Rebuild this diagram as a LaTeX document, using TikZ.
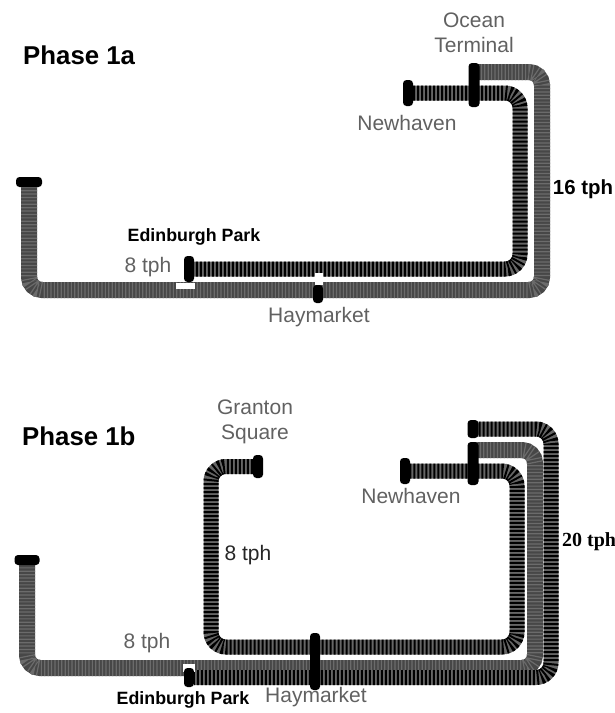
\documentclass[tikz,border=0pt]{standalone}
\usepackage{fontspec}
\setmainfont{Liberation Sans}
\newfontfamily\serifbold{Liberation Serif}[BoldFont={Liberation Serif Bold}]
\usetikzlibrary{backgrounds}

\begin{document}
\begin{tikzpicture} [
    x=1pt, y=-1pt,
    stopbar/.style={rectangle, fill=black, rounded corners=3.5pt, inner sep=0pt},
    patch/.style={rectangle, fill=white, inner sep=0pt},
    stationlabel/.style={inner sep=0pt, align=center, text=black!62, font=\fontsize{21}{24}\selectfont},
    boldlabel/.style={inner sep=0pt, font=\fontsize{17.8}{22}\selectfont\bfseries},
    phaselabel/.style={inner sep=0pt, anchor=west, font=\fontsize{25.8}{30}\selectfont\bfseries},
    checkline/.style={line width=16pt, rounded corners=13pt, black!72,
        postaction={draw, black!58, line width=16pt, dash pattern=on 1.2pt off 2.2pt}},
    stripeline/.style={line width=15pt, rounded corners=15pt, black!60,
        postaction={draw, black, line width=15pt, dash pattern=on 2pt off 2pt}}
]
    \useasboundingbox (0,0) rectangle (615,713);

    % Phase 1a
    \node[phaselabel] (phaseA) at (23,55) {Phase 1a};
    \node[stationlabel] (oceanlabel) at (474,33) {Ocean\\[1pt]Terminal};
    \node[stationlabel] (newhavenlabelA) at (407,123) {Newhaven};
    \node[boldlabel, font=\fontsize{20.4}{22}\selectfont\bfseries] (tphA) at (583,189) {16 tph};
    \node[boldlabel] (edinlabelA) at (194,237) {Edinburgh Park};
    \node[stationlabel] (eightA) at (148,267) {8 tph};
    \node[stationlabel] (haylabelA) at (319,317) {Haymarket};

    \node[patch, minimum width=19pt, minimum height=6pt] (gapA) at (185,286) {};
    \node[patch, minimum width=8pt, minimum height=12pt] (gapB) at (319,279) {};
    \node[stopbar, minimum width=26pt, minimum height=10pt] (termA) at (29,182) {};
    \node[stopbar, minimum width=10pt, minimum height=26pt] (newhavenA) at (408,93) {};
    \node[stopbar, minimum width=11pt, minimum height=44pt] (oceanA) at (474,85) {};
    \node[stopbar, minimum width=10pt, minimum height=26pt] (edinparkA) at (189,269) {};
    \node[stopbar, minimum width=10pt, minimum height=18pt] (haymarketA) at (318,294) {};
    \coordinate (oceantop) at (474,72);
    \coordinate (outerA) at (542,290);
    \coordinate (innerA) at (520,269);

    % Phase 1b
    \node[phaselabel] (phaseB) at (22,436) {Phase 1b};
    \node[stationlabel] (grantonlabel) at (255,422) {Granton\\[1pt]Square};
    \node[stationlabel] (newhavenlabelB) at (411,496) {Newhaven};
    \node[boldlabel, anchor=west, font=\fontsize{20}{22}\serifbold\bfseries] (tphB) at (562,542) {20 tph};
    \node[stationlabel, text=black!85] (eightB) at (248,555) {8 tph};
    \node[stationlabel] (eightC) at (147,643) {8 tph};
    \node[boldlabel] (edinlabelB) at (183,700) {Edinburgh Park};
    \node[stationlabel] (haylabelB) at (316,697) {Haymarket};

    \node[patch, minimum width=12pt, minimum height=8pt] (gapC) at (189,668) {};
    \node[stopbar, minimum width=25pt, minimum height=10pt] (termB) at (27,560) {};
    \node[stopbar, minimum width=10pt, minimum height=23pt] (grantonB) at (258,466.5) {};
    \node[stopbar, minimum width=10pt, minimum height=26pt] (newhavenB) at (405,471) {};
    \node[stopbar, minimum width=11pt, minimum height=18pt] (northB) at (473,429) {};
    \node[stopbar, minimum width=11pt, minimum height=43pt] (oceanB) at (473,463.5) {};
    \node[stopbar, minimum width=10pt, minimum height=19pt] (edinparkB) at (189,677.5) {};
    \node[stopbar, minimum width=10pt, minimum height=57pt] (haymarketB) at (315,661.5) {};
    \coordinate (oceanmid) at (473,450);
    \coordinate (westB) at (211,647);
    \coordinate (innerB) at (517,471);
    \coordinate (middleB) at (535,668);
    \coordinate (outerB) at (551,677.5);

    % connections (under the stops)
    \begin{pgfonlayer}{background}
        \draw[checkline] (oceantop) -| (outerA) -| (termA);
        \draw[stripeline] (newhavenA) -| (innerA) -- (edinparkA);

        \draw[checkline] (oceanmid) -| (middleB) -| (termB);
        \draw[stripeline] (northB) -| (outerB) -- (edinparkB);
        \draw[stripeline] (grantonB) -| (westB) -| (innerB) -- (newhavenB);
    \end{pgfonlayer}
\end{tikzpicture}
\end{document}
